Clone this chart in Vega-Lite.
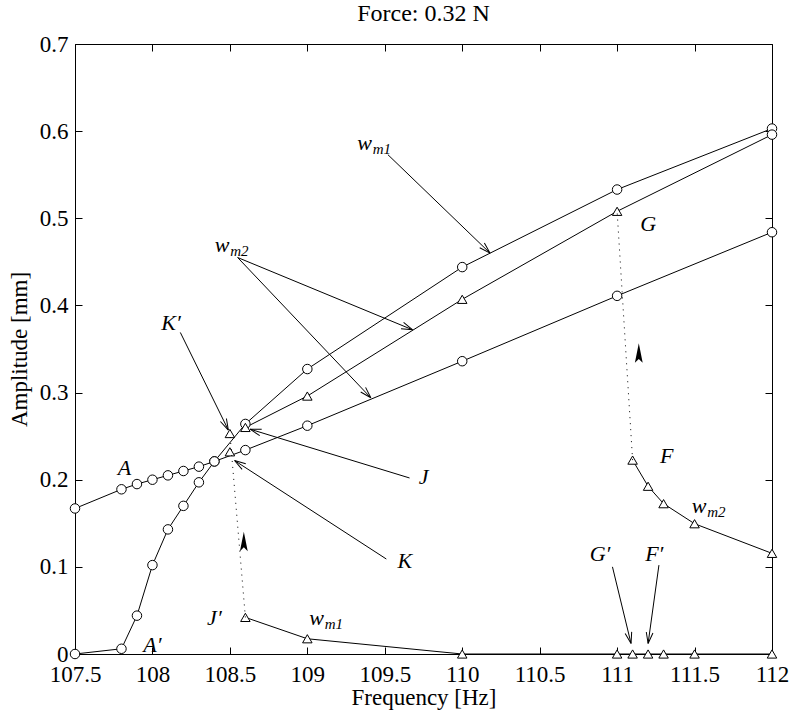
{
  "$schema": "https://vega.github.io/schema/vega-lite/v6.json",
  "width": 697,
  "height": 610,
  "autosize": "none",
  "padding": {"left": 75, "top": 44, "right": 20, "bottom": 63},
  "background": "white",
  "title": {"text": "Force: 0.32 N", "font": "Liberation Serif", "fontSize": 24, "fontWeight": "normal", "color": "black", "baseline": "alphabetic", "offset": -12},
  "config": {
    "view": {"stroke": "black", "strokeWidth": 1}
  },
  "datasets": {
    "curves": [
      {"s": "A", "m": "o", "x": 107.5, "y": 0.167},
      {"s": "A", "m": "o", "x": 107.8, "y": 0.189},
      {"s": "A", "m": "o", "x": 107.9, "y": 0.195},
      {"s": "A", "m": "o", "x": 108.0, "y": 0.200},
      {"s": "A", "m": "o", "x": 108.1, "y": 0.205},
      {"s": "A", "m": "o", "x": 108.2, "y": 0.210},
      {"s": "A", "m": "o", "x": 108.3, "y": 0.215},
      {"s": "A", "m": "o", "x": 108.4, "y": 0.221},
      {"s": "A", "m": "o", "x": 108.6, "y": 0.234},
      {"s": "A", "m": "o", "x": 109.0, "y": 0.262},
      {"s": "A", "m": "o", "x": 110.0, "y": 0.336},
      {"s": "A", "m": "o", "x": 111.0, "y": 0.411},
      {"s": "A", "m": "o", "x": 112.0, "y": 0.484},
      {"s": "B", "m": "o", "x": 107.5, "y": 0.0},
      {"s": "B", "m": "o", "x": 107.8, "y": 0.006},
      {"s": "B", "m": "o", "x": 107.9, "y": 0.044},
      {"s": "B", "m": "o", "x": 108.0, "y": 0.102},
      {"s": "B", "m": "o", "x": 108.1, "y": 0.143},
      {"s": "B", "m": "o", "x": 108.2, "y": 0.170},
      {"s": "B", "m": "o", "x": 108.3, "y": 0.197},
      {"s": "B", "m": "o", "x": 108.4, "y": 0.221},
      {"s": "B", "m": "o", "x": 108.6, "y": 0.264},
      {"s": "B", "m": "o", "x": 109.0, "y": 0.327},
      {"s": "B", "m": "o", "x": 110.0, "y": 0.444},
      {"s": "B", "m": "o", "x": 111.0, "y": 0.533},
      {"s": "B", "m": "o", "x": 112.0, "y": 0.603},
      {"s": "C", "m": "t", "x": 108.6, "y": 0.260},
      {"s": "C", "m": "t", "x": 109.0, "y": 0.296},
      {"s": "C", "m": "t", "x": 110.0, "y": 0.407},
      {"s": "C", "m": "t", "x": 111.0, "y": 0.508},
      {"s": "C", "m": "o", "x": 112.0, "y": 0.596},
      {"s": "D", "m": "t", "x": 108.6, "y": 0.042},
      {"s": "D", "m": "t", "x": 109.0, "y": 0.0175},
      {"s": "D", "m": "t", "x": 110.0, "y": 0.0},
      {"s": "D", "m": "t", "x": 111.0, "y": 0.0},
      {"s": "D", "m": "t", "x": 111.1, "y": 0.0},
      {"s": "D", "m": "t", "x": 111.2, "y": 0.0},
      {"s": "D", "m": "t", "x": 111.3, "y": 0.0},
      {"s": "D", "m": "t", "x": 111.5, "y": 0.0},
      {"s": "D", "m": "t", "x": 112.0, "y": 0.0},
      {"s": "E", "m": "t", "x": 111.1, "y": 0.2225},
      {"s": "E", "m": "t", "x": 111.2, "y": 0.1925},
      {"s": "E", "m": "t", "x": 111.3, "y": 0.1725},
      {"s": "E", "m": "t", "x": 111.5, "y": 0.1495},
      {"s": "E", "m": "t", "x": 112.0, "y": 0.1155},
      {"s": "K1", "m": "t", "x": 108.5, "y": 0.253},
      {"s": "K2", "m": "t", "x": 108.5, "y": 0.232}
    ],
    "jumps": [
      {"x": 108.6, "y": 0.042, "x2": 108.5, "y2": 0.253},
      {"x": 111.1, "y": 0.2225, "x2": 111.0, "y2": 0.508}
    ],
    "jumpArrows": [
      {"x": 108.59, "y": 0.1254},
      {"x": 111.14, "y": 0.3416}
    ],
    "arrows": [
      {"x": 109.52, "y": 0.573, "x2": 110.18, "y2": 0.460},
      {"x": 108.55, "y": 0.455, "x2": 109.68, "y2": 0.372},
      {"x": 108.55, "y": 0.455, "x2": 109.41, "y2": 0.294},
      {"x": 108.18, "y": 0.369, "x2": 108.49, "y2": 0.257},
      {"x": 109.66, "y": 0.202, "x2": 108.63, "y2": 0.258},
      {"x": 109.51, "y": 0.109, "x2": 108.53, "y2": 0.222},
      {"x": 110.97, "y": 0.100, "x2": 111.09, "y2": 0.012},
      {"x": 111.27, "y": 0.102, "x2": 111.2, "y2": 0.012}
    ],
    "labels": [
      {"x": 109.37, "y": 0.586, "t": "w", "sub": "m1"},
      {"x": 108.45, "y": 0.469, "t": "w", "sub": "m2"},
      {"x": 108.12, "y": 0.380, "t": "K′", "sub": ""},
      {"x": 109.75, "y": 0.203, "t": "J", "sub": ""},
      {"x": 109.63, "y": 0.107, "t": "K", "sub": ""},
      {"x": 107.82, "y": 0.213, "t": "A", "sub": ""},
      {"x": 108.0, "y": 0.010, "t": "A′", "sub": ""},
      {"x": 108.40, "y": 0.041, "t": "J′", "sub": ""},
      {"x": 109.06, "y": 0.041, "t": "w", "sub": "m1"},
      {"x": 111.2, "y": 0.494, "t": "G", "sub": ""},
      {"x": 111.32, "y": 0.227, "t": "F", "sub": ""},
      {"x": 111.53, "y": 0.170, "t": "w", "sub": "m2"},
      {"x": 110.89, "y": 0.115, "t": "G′", "sub": ""},
      {"x": 111.24, "y": 0.115, "t": "F′", "sub": ""}
    ]
  },
  "resolve": {"axis": {"x": "independent", "y": "independent"}},
  "layer": [
    {
      "data": {"name": "curves"},
      "mark": {"type": "line", "color": "black", "strokeWidth": 1},
      "encoding": {
        "x": {"field": "x", "type": "quantitative", "scale": {"domain": [107.5, 112], "nice": false, "zero": false},
          "axis": {"orient": "bottom", "values": [107.5, 108, 108.5, 109, 109.5, 110, 110.5, 111, 111.5, 112], "format": "~f", "title": "Frequency [Hz]",
            "labelFont": "Liberation Serif", "labelFontSize": 23, "labelColor": "black", "titleFont": "Liberation Serif", "titleFontSize": 23, "titleFontWeight": "normal", "titleColor": "black",
            "domainColor": "black", "tickColor": "black", "grid": false, "tickSize": -7, "labelOverlap": false, "labelFlush": false, "labelBound": false,
            "labelPadding": 16, "titlePadding": 0}},
        "y": {"field": "y", "type": "quantitative", "scale": {"domain": [0, 0.7], "nice": false},
          "axis": {"orient": "left", "values": [0, 0.1, 0.2, 0.3, 0.4, 0.5, 0.6, 0.7], "format": "~f", "title": "Amplitude [mm]",
            "labelFont": "Liberation Serif", "labelFontSize": 23, "labelColor": "black", "titleFont": "Liberation Serif", "titleFontSize": 23, "titleFontWeight": "normal", "titleColor": "black",
            "domainColor": "black", "tickColor": "black", "grid": false, "tickSize": -7, "labelOverlap": false, "labelFlush": false, "labelBound": false,
            "labelPadding": 14, "titlePadding": 8}},
        "detail": {"field": "s", "type": "nominal"}
      }
    },
    {
      "data": {"name": "curves"},
      "mark": {"type": "point", "filled": false, "fill": "white", "fillOpacity": 1, "stroke": "black", "strokeWidth": 1, "size": 90, "opacity": 1},
      "encoding": {
        "x": {"field": "x", "type": "quantitative",
          "axis": {"orient": "top", "values": [107.5, 108, 108.5, 109, 109.5, 110, 110.5, 111, 111.5, 112], "labels": false, "title": null, "domain": false, "grid": false, "tickSize": -7, "tickColor": "black"}},
        "y": {"field": "y", "type": "quantitative",
          "axis": {"orient": "right", "values": [0, 0.1, 0.2, 0.3, 0.4, 0.5, 0.6, 0.7], "labels": false, "title": null, "domain": false, "grid": false, "tickSize": -7, "tickColor": "black"}},
        "shape": {"field": "m", "type": "nominal", "scale": {"domain": ["o", "t"], "range": ["circle", "triangle-up"]}, "legend": null}
      }
    },
    {
      "data": {"name": "jumps"},
      "mark": {"type": "rule", "color": "black", "strokeWidth": 1, "strokeDash": [1, 5]},
      "encoding": {
        "x": {"field": "x", "type": "quantitative", "axis": null},
        "y": {"field": "y", "type": "quantitative", "axis": null},
        "x2": {"field": "x2"},
        "y2": {"field": "y2"}
      }
    },
    {
      "data": {"name": "jumpArrows"},
      "mark": {"type": "point", "shape": "M0,-1L0.3,0.5L0,0.2L-0.3,0.5Z", "filled": true, "color": "black", "opacity": 1, "size": 676},
      "encoding": {
        "x": {"field": "x", "type": "quantitative", "axis": null},
        "y": {"field": "y", "type": "quantitative", "axis": null}
      }
    },
    {
      "data": {"name": "arrows"},
      "mark": {"type": "rule", "color": "black", "strokeWidth": 1},
      "encoding": {
        "x": {"field": "x", "type": "quantitative", "axis": null},
        "y": {"field": "y", "type": "quantitative", "axis": null},
        "x2": {"field": "x2"},
        "y2": {"field": "y2"}
      }
    },
    {
      "data": {"name": "arrows"},
      "transform": [
        {"calculate": "atan2(-(datum.y2 - datum.y) * 871.4, (datum.x2 - datum.x) * 154.89) * 180 / PI", "as": "ang"}
      ],
      "mark": {"type": "point", "shape": "M0,0L-1,-0.3M0,0L-1,0.3", "filled": false, "fill": null, "stroke": "black", "strokeWidth": 1, "opacity": 1, "size": 500},
      "encoding": {
        "x": {"field": "x2", "type": "quantitative", "axis": null},
        "y": {"field": "y2", "type": "quantitative", "axis": null},
        "angle": {"field": "ang", "type": "quantitative", "scale": null}
      }
    },
    {
      "data": {"name": "labels"},
      "mark": {"type": "text", "font": "Liberation Serif", "fontStyle": "italic", "fontSize": 22, "color": "black", "align": "center", "baseline": "middle"},
      "encoding": {
        "x": {"field": "x", "type": "quantitative", "axis": null},
        "y": {"field": "y", "type": "quantitative", "axis": null},
        "text": {"field": "t"}
      }
    },
    {
      "data": {"name": "labels"},
      "transform": [{"filter": "datum.sub != ''"}],
      "mark": {"type": "text", "font": "Liberation Serif", "fontStyle": "italic", "fontSize": 15, "color": "black", "align": "left", "baseline": "middle", "dx": 8, "dy": 6},
      "encoding": {
        "x": {"field": "x", "type": "quantitative", "axis": null},
        "y": {"field": "y", "type": "quantitative", "axis": null},
        "text": {"field": "sub"}
      }
    }
  ]
}
